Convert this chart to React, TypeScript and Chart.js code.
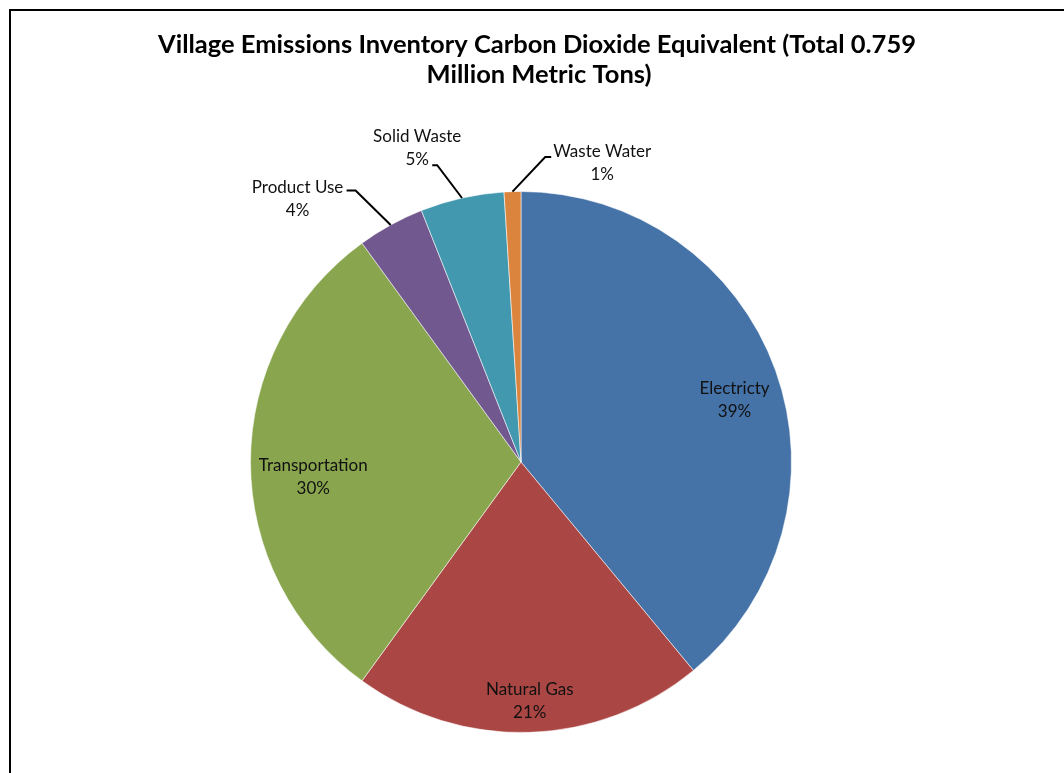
import React, { useEffect, useRef } from "react";
import { Chart, registerables } from "chart.js";

Chart.register(...registerables);

// Emission sources and their share of the total (percent)
const categories = ["Electricty", "Natural Gas", "Transportation", "Product Use", "Solid Waste", "Waste Water"];
const shares = [39, 21, 30, 4, 5, 1];
const sliceColors = ["#4572A7", "#AA4643", "#89A54E", "#71588F", "#4198AF", "#DB843D"];
const titleLines = [
  "Village Emissions Inventory Carbon Dioxide Equivalent (Total 0.759",
  "Million Metric Tons)",
];

// Label placement: angular offset from slice middle (deg), distance as a fraction of radius,
// and for outside labels the leader elbow / end points relative to the label centre.
type Placement = { dAngle: number; radius: number; leader?: [number, number][] };
const labelPlacement: Placement[] = [
  { dAngle: 3.6, radius: 0.822 },
  { dAngle: -0.3, radius: 0.886 },
  { dAngle: -4.1, radius: 0.77 },
  { dAngle: -11.5, radius: 1.277, leader: [[58, -8], [49, -8]] },
  { dAngle: -5.7, radius: 1.222, leader: [[20, 17], [15, 17]] },
  { dAngle: 17, radius: 1.145, leader: [[-57, -6], [-51, -6]] },
];

const FONT = "Lato, 'Open Sans', sans-serif";

const decorations = {
  id: "decorations",
  beforeDraw(chart: any) {
    const { ctx, width, height } = chart;
    ctx.save();
    ctx.fillStyle = "#ffffff";
    ctx.fillRect(0, 0, width, height);
    ctx.restore();
  },
  afterDatasetsDraw(chart: any) {
    const { ctx, width, height } = chart;
    ctx.save();
    // frame
    ctx.strokeStyle = "#000";
    ctx.lineWidth = 2;
    ctx.beginPath();
    ctx.moveTo(10, height + 2);
    ctx.lineTo(10, 10);
    ctx.lineTo(width + 2, 10);
    ctx.stroke();

    // title
    ctx.fillStyle = "#000";
    ctx.textAlign = "center";
    ctx.textBaseline = "middle";
    ctx.font = `bold 25.5px ${FONT}`;
    ctx.fillText(titleLines[0], 537, 45);
    ctx.fillText(titleLines[1], 539, 75);

    // slice labels
    const meta = chart.getDatasetMeta(0);
    const total = shares.reduce((a, b) => a + b, 0);
    ctx.font = `17px ${FONT}`;
    meta.data.forEach((arc: any, i: number) => {
      const p = labelPlacement[i];
      const mid = (arc.startAngle + arc.endAngle) / 2;
      const a = mid + (p.dAngle * Math.PI) / 180;
      const r = arc.outerRadius * p.radius;
      const lx = arc.x + Math.cos(a) * r;
      const ly = arc.y + Math.sin(a) * r;
      const pct = `${Math.round((shares[i] / total) * 100)}%`;
      if (p.leader) {
        ctx.strokeStyle = "#000";
        ctx.lineWidth = 2;
        ctx.beginPath();
        ctx.moveTo(arc.x + Math.cos(mid) * arc.outerRadius, arc.y + Math.sin(mid) * arc.outerRadius);
        ctx.lineTo(lx + p.leader[0][0], ly + p.leader[0][1]);
        ctx.lineTo(lx + p.leader[1][0], ly + p.leader[1][1]);
        ctx.stroke();
      }
      ctx.fillStyle = "#111";
      ctx.fillText(categories[i], lx, ly - 11.5);
      ctx.fillText(pct, lx, ly + 11.5);
    });
    ctx.restore();
  },
};

export default function App() {
  const ref = useRef<HTMLCanvasElement>(null);
  useEffect(() => {
    if (!ref.current) return;
    const chart = new Chart(ref.current, {
      type: "pie",
      data: {
        labels: categories,
        datasets: [
          {
            data: shares,
            backgroundColor: sliceColors,
            borderColor: "rgba(255,255,255,0.55)",
            borderWidth: 1,
          },
        ],
      },
      options: {
        animation: false,
        responsive: false,
        maintainAspectRatio: false,
        layout: { padding: { top: 191, bottom: 40, left: 250, right: 272 } },
        plugins: {
          legend: { display: false },
          title: { display: false },
          tooltip: { enabled: false },
        },
      },
      plugins: [decorations],
    });
    return () => chart.destroy();
  }, []);
  return (
    <div style={{ position: "fixed", left: 0, top: 0, width: 1064, height: 773, background: "#fff" }}>
      <canvas ref={ref} width={1064} height={773} style={{ display: "block", width: 1064, height: 773 }} />
    </div>
  );
}
